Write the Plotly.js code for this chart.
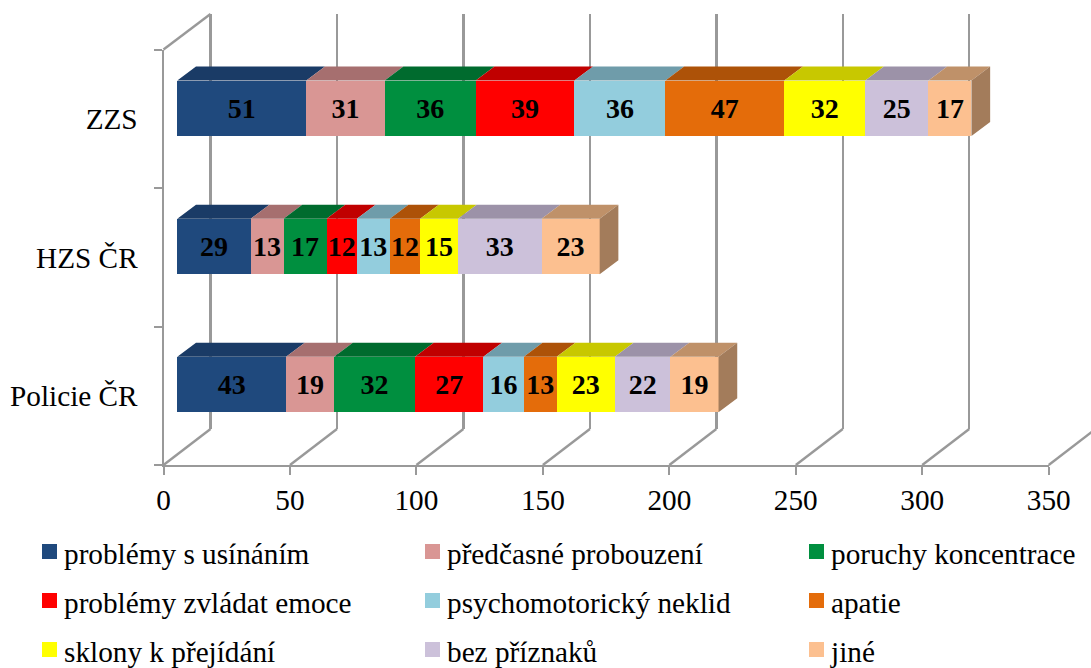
<!DOCTYPE html>
<html><head><meta charset="utf-8">
<script src="https://cdn.plot.ly/plotly-3.0.1.min.js"></script>
<style>html,body{margin:0;padding:0;background:#fff;overflow:hidden;width:1091px;height:668px}#c{width:1091px;height:700px}</style>
</head><body><div id="c"></div>
<script>
const categories = ['Policie ČR','HZS ČR','ZZS'];
const seriesNames = ['problémy s usínáním','předčasné probouzení','poruchy koncentrace','problémy zvládat emoce','psychomotorický neklid','apatie','sklony k přejídání','bez příznaků','jiné'];
const usinani   = [43,29,51];
const probouzeni= [19,13,31];
const koncentrace=[32,17,36];
const emoce     = [27,12,39];
const neklid    = [16,13,36];
const apatie    = [13,12,47];
const prejidani = [23,15,32];
const bez       = [22,33,25];
const jine      = [19,23,17];
const seriesValues = [usinani,probouzeni,koncentrace,emoce,neklid,apatie,prejidani,bez,jine];
const frontColors = ['#1F497D','#D99694','#008F3F','#FF0000','#93CDDD','#E46C0A','#FFFF00','#CCC1DA','#FCC090'];
const topColors   = ['#1A3B66','#A66F6F','#006B2E','#C00000','#6F9CAA','#AD5208','#C8C800','#9C92A8','#BF9169'];
const sideColor = '#A37C5B';
const xTicks = [0,50,100,150,200,250,300,350];

// the plot is laid out a little taller than the window so the last legend row does not push the margins
const W=1091,H=700;
const FONT='"Liberation Serif","Times New Roman",serif';
const GRID='#999999';
// geometry of the pseudo-3D box, in page pixels
const axL=163.5, axR=1048.7, axT=49.5, axB=465, wallDX=47, wallT=14, wallB=429;
const ppu=(axR-axL)/350;
const barL=177.3, barTopCentre=108.3, bandPx=138.1, barPx=55.5, depthDX=18.7, depthDY=14;
const fx=p=>p/W, fy=p=>1-p/H;
const xv=p=>(p-barL)/ppu;                     // page px -> value axis of the bar layer
const yv=p=>2-(p-barTopCentre)/bandPx;        // page px -> category index of the bar layer
const dXv=depthDX/ppu, dYv=depthDY/bandPx, halfBar=barPx/bandPx/2;

const idx=categories.map((c,i)=>i);
const traces=[];
// empty holders so that the two back subplots are created
traces.push({type:'scatter',x:[0],y:[0],xaxis:'x',yaxis:'y',mode:'none',showlegend:false,hoverinfo:'skip'});
traces.push({type:'scatter',x:[0],y:[0],xaxis:'x2',yaxis:'y2',mode:'none',showlegend:false,hoverinfo:'skip'});

// floor and side wall diagonals, from the axis ticks
const off=xv(axL);
const dx=[],dy=[];
xTicks.forEach(v=>{dx.push(v+off,v+off+wallDX/ppu,null);dy.push(yv(axB),yv(wallB),null);});
dx.push(off,off+wallDX/ppu);dy.push(yv(axT),yv(wallT));
traces.push({type:'scatter',x:dx,y:dy,xaxis:'x3',yaxis:'y3',mode:'lines',line:{color:GRID,width:2.4},showlegend:false,hoverinfo:'skip'});

// bars
const cum=categories.map(()=>0);
const faces=[];
seriesValues.forEach((vals,s)=>{
  traces.push({type:'bar',orientation:'h',name:seriesNames[s],x:vals,y:idx,xaxis:'x3',yaxis:'y3',
    width:barPx/bandPx,marker:{color:frontColors[s],line:{width:0}},
    text:vals.map(String),textposition:'inside',insidetextanchor:'middle',textangle:0,constraintext:'none',
    textfont:{family:FONT,size:28,color:'#000',weight:'bold'},
    legend:s===0?'legend':'legend'+(s+1),hoverinfo:'x+name'});
  const fxs=[],fys=[];
  vals.forEach((v,i)=>{
    const a=cum[i],b=a+v,t=i+halfBar;
    fxs.push(a,b,b+dXv,a+dXv,a,null);
    fys.push(t,t,t+dYv,t+dYv,t,null);
    cum[i]=b;
  });
  faces.push({type:'scatter',x:fxs,y:fys,xaxis:'x3',yaxis:'y3',mode:'lines',fill:'toself',fillcolor:topColors[s],line:{width:0,color:topColors[s]},showlegend:false,hoverinfo:'skip'});
});
// right end faces
const sx=[],sy=[];
cum.forEach((b,i)=>{sx.push(b,b+dXv,b+dXv,b,b,null);sy.push(i+halfBar,i+halfBar+dYv,i-halfBar+dYv,i-halfBar,i+halfBar,null);});
faces.push({type:'scatter',x:sx,y:sy,xaxis:'x3',yaxis:'y3',mode:'lines',fill:'toself',fillcolor:sideColor,line:{width:0,color:sideColor},showlegend:false,hoverinfo:'skip'});
faces.forEach(f=>traces.push(f));

const hidden={showgrid:false,zeroline:false,showline:false,showticklabels:false,ticks:''};
const wallPad=10; // value units left of 0 so that the gridline at 0 is kept
const layout={
  width:W,height:H,margin:{l:0,r:0,t:0,b:0,pad:0},autosize:false,
  paper_bgcolor:'#fff',plot_bgcolor:'rgba(0,0,0,0)',barmode:'stack',bargap:0,
  font:{family:FONT,size:29.25,color:'#000'},
  // back wall, native vertical gridlines
  xaxis:{...hidden,domain:[fx(axL+wallDX-wallPad*ppu),1],range:[-wallPad,(W-axL-wallDX)/ppu],dtick:50,tick0:0,showgrid:true,gridcolor:GRID,gridwidth:2.4,anchor:'y'},
  yaxis:{...hidden,domain:[fy(wallB),fy(wallT)],range:[0,1],anchor:'x'},
  // front axes
  xaxis2:{domain:[fx(axL),fx(axR)],range:[0,350],tickmode:'array',tickvals:xTicks,ticktext:xTicks.map(String),
    ticks:'outside',ticklen:8,tickwidth:2,tickcolor:GRID,showline:true,linecolor:GRID,linewidth:2,showgrid:false,zeroline:false,
    tickfont:{family:FONT,size:29.25,color:'#000'},ticklabelstandoff:0,anchor:'y2'},
  yaxis2:{domain:[fy(axB),fy(axT)],range:[-0.5,2.5],tickmode:'array',tickvals:idx,ticktext:categories,ticks:'',
    minor:{tickmode:'array',tickvals:[-0.5,0.5,1.5,2.5],ticks:'outside',ticklen:8,tickwidth:2,tickcolor:GRID,showgrid:false},
    showline:true,linecolor:GRID,linewidth:2,showgrid:false,zeroline:false,
    tickfont:{family:FONT,size:29.25,color:'#000'},ticklabelstandoff:18,anchor:'x2'},
  // bar layer spans the page so depth faces are not clipped
  xaxis3:{...hidden,domain:[0,1],range:[xv(0),xv(W)],anchor:'y3'},
  yaxis3:{...hidden,domain:[0,1],range:[yv(H),yv(0)],anchor:'x3'},
  showlegend:true
};
const colX=[64,447,831], rowY=[553,602,651];
seriesNames.forEach((n,s)=>{
  const key=s===0?'legend':'legend'+(s+1);
  layout[key]={x:fx(colX[s%3]-40),y:fy(rowY[Math.floor(s/3)]),xanchor:'left',yanchor:'middle',bgcolor:'rgba(0,0,0,0)',borderwidth:0,
    font:{family:FONT,size:29.25,color:'#000'},itemclick:false,itemdoubleclick:false};
});
Plotly.newPlot('c',traces,layout,{displayModeBar:false,staticPlot:true}).then(()=>{
  // legend swatches of the reference are slightly larger and closer to the text
  document.querySelectorAll('.legendpoints path').forEach(p=>{
    p.setAttribute('d','M7.5,7.5H-7.5V-7.5H7.5Z');
    p.setAttribute('transform','translate(25.5,-1)');
  });
});
</script></body></html>
